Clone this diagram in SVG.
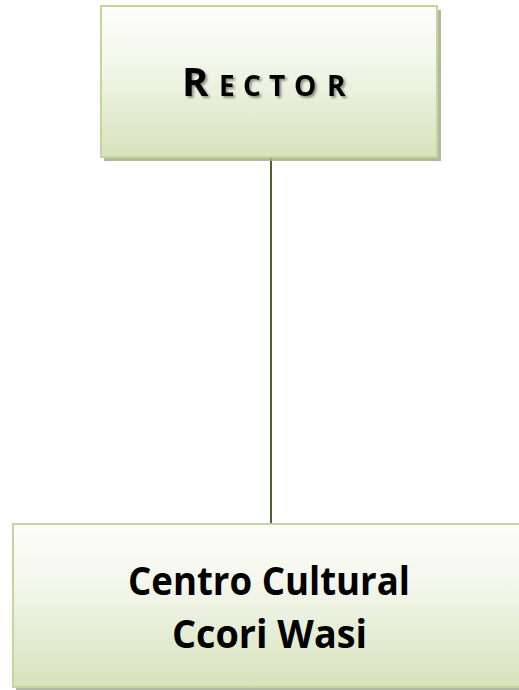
<svg xmlns="http://www.w3.org/2000/svg" width="519" height="690" viewBox="0 0 519 690">
  <defs>
    <linearGradient id="boxFill" x1="0" y1="0" x2="0" y2="1">
      <stop offset="0" stop-color="#fdfdfb"/>
      <stop offset="0.35" stop-color="#f4f7ec"/>
      <stop offset="1" stop-color="#d6e3bc"/>
    </linearGradient>
    <filter id="txtShadow" x="-10%" y="-20%" width="130%" height="150%">
      <feDropShadow dx="2" dy="2" stdDeviation="0.8" flood-color="#000" flood-opacity="0.4"/>
    </filter>
  </defs>
  <style>
    .box { fill: url(#boxFill); stroke: #c3d69b; stroke-width: 2; }
    .shadow { fill: #a3ab93; opacity: 0.85; }
    .conn { stroke: #4f6228; stroke-width: 2; fill: none; }
    .lbl { font-family: "Open Sans", "Liberation Sans", sans-serif; font-weight: bold; fill: #000; }
    .mid { text-anchor: middle; }
  </style>
  <rect width="519" height="690" fill="#ffffff"/>
  <g id="connectors">
    <line class="conn" x1="271" y1="158" x2="271" y2="523"/>
  </g>
  <g id="rector">
    <rect class="shadow" x="104" y="10" width="337" height="151"/>
    <rect class="box" x="101" y="6" width="336" height="151"/>
    <text class="lbl" y="96" filter="url(#txtShadow)"><tspan x="182" font-size="40">R</tspan><tspan x="219 243 269 294 327" font-size="28">ECTOR</tspan></text>
  </g>
  <g id="centro">
    <rect class="shadow" x="16" y="528" width="520" height="164"/>
    <rect class="box" x="13" y="524" width="520" height="163"/>
    <text class="lbl mid" font-size="39" x="269" y="595" textLength="282" lengthAdjust="spacingAndGlyphs">Centro Cultural</text>
    <text class="lbl mid" font-size="39" x="269.5" y="648" textLength="195" lengthAdjust="spacingAndGlyphs">Ccori Wasi</text>
  </g>
</svg>
